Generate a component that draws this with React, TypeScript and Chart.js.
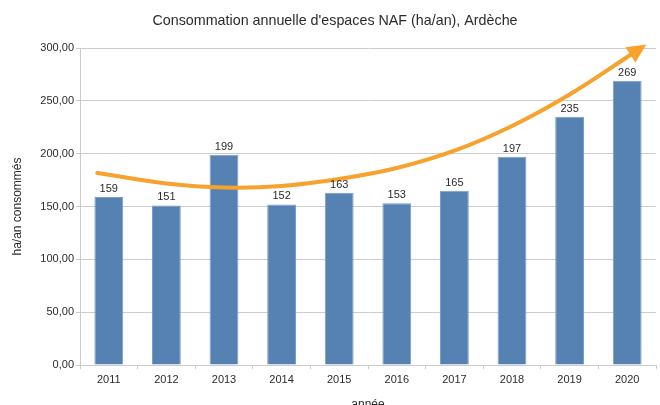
import React, { useEffect, useRef } from "react";
import { Chart, registerables } from "chart.js";

Chart.register(...registerables);

const TITLE = "Consommation annuelle d'espaces NAF (ha/an), Ardèche";
const Y_TITLE = "ha/an consommés";
const X_TITLE = "année";

const years = ["2011", "2012", "2013", "2014", "2015", "2016", "2017", "2018", "2019", "2020"];
const consumption = [159, 151, 199, 152, 163, 153, 165, 197, 235, 269];

// Hand-drawn trend arrow (x = category index, y = value)
const trendX = [-0.2, 1, 2, 3, 4, 5, 6, 7, 8, 9.1];
const trendY = [181.7, 171.8, 168, 169.4, 176, 186.4, 202.8, 226.2, 256, 295];

const BAR_COLOR = "#5682b3";
const ORANGE = "#f6a22d";
const TEXT = "#2b2b2b";
const GRID = "#cccccc";
const FONT = "'Liberation Sans', Arial, sans-serif";

const titlePlugin = {
  id: "customTitle",
  afterDraw(chart: any) {
    const ctx = chart.ctx;
    ctx.save();
    ctx.font = `14.3px ${FONT}`;
    ctx.fillStyle = TEXT;
    ctx.textAlign = "center";
    ctx.textBaseline = "middle";
    ctx.fillText(TITLE, 335, 21);
    ctx.restore();
  },
};

const labelsPlugin = {
  id: "barLabels",
  afterDatasetsDraw(chart: any) {
    const ctx = chart.ctx;
    const meta = chart.getDatasetMeta(1);
    ctx.save();
    ctx.font = `11px ${FONT}`;
    ctx.fillStyle = TEXT;
    ctx.textAlign = "center";
    ctx.textBaseline = "middle";
    meta.data.forEach((bar: any, i: number) => {
      ctx.fillText(String(consumption[i]), bar.x, bar.y - 8);
    });
    ctx.restore();
  },
};

const arrowPlugin = {
  id: "arrowHead",
  afterDatasetsDraw(chart: any) {
    const meta = chart.getDatasetMeta(0);
    const pts = meta.data;
    const n = pts.length;
    if (n < 2) return;
    const b = pts[n - 1];
    const cx = b.cp1x !== undefined ? b.cp1x : pts[n - 2].x;
    const cy = b.cp1y !== undefined ? b.cp1y : pts[n - 2].y;
    const ang = Math.atan2(b.y - cy, b.x - cx);
    const len = 16;
    const half = 9;
    const ctx = chart.ctx;
    const tipX = b.x + Math.cos(ang) * len;
    const tipY = b.y + Math.sin(ang) * len;
    const px = -Math.sin(ang);
    const py = Math.cos(ang);
    const backX = b.x - Math.cos(ang) * 3;
    const backY = b.y - Math.sin(ang) * 3;
    ctx.save();
    ctx.fillStyle = ORANGE;
    ctx.beginPath();
    ctx.moveTo(tipX, tipY);
    ctx.lineTo(backX + px * half, backY + py * half);
    ctx.lineTo(backX - px * half, backY - py * half);
    ctx.closePath();
    ctx.fill();
    ctx.restore();
  },
};

export default function App() {
  const canvasRef = useRef<HTMLCanvasElement | null>(null);

  useEffect(() => {
    document.body.style.margin = "0";
    const canvas = canvasRef.current;
    if (!canvas) return;
    const chart = new Chart(canvas, {
      type: "bar",
      data: {
        labels: years,
        datasets: [
          {
            type: "line",
            data: trendX.map((x, i) => ({ x, y: trendY[i] })),
            xAxisID: "x2",
            borderColor: ORANGE,
            borderWidth: 4,
            borderCapStyle: "round",
            tension: 0.4,
            pointRadius: 0,
            fill: false,
            order: 0,
          } as any,
          {
            type: "bar",
            data: consumption,
            backgroundColor: BAR_COLOR,
            borderColor: "#7b9dc6",
            borderWidth: 1,
            barPercentage: 0.5,
            categoryPercentage: 1,
            grouped: false,
            order: 1,
          } as any,
        ],
      },
      options: {
        animation: false,
        responsive: false,
        maintainAspectRatio: false,
        layout: { padding: { top: 48, right: 4, left: 0, bottom: 0 } },
        plugins: {
          legend: { display: false },
          tooltip: { enabled: false },
          title: { display: false },
        },
        scales: {
          x: {
            type: "category",
            offset: true,
            grid: {
              display: true,
              drawOnChartArea: false,
              offset: true,
              tickLength: 4,
              color: GRID,
            },
            border: { display: true, color: GRID },
            ticks: {
              color: TEXT,
              font: { family: FONT, size: 11 },
              padding: 4,
              maxRotation: 0,
            },
            title: {
              display: true,
              text: X_TITLE,
              color: TEXT,
              font: { family: FONT, size: 12, lineHeight: 1 },
              padding: { top: 0, bottom: -6 },
            },
            afterFit(scale: any) {
              scale.height = 40;
            },
          },
          x2: {
            type: "linear",
            min: -0.5,
            max: 9.5,
            offset: false,
            display: false,
          },
          y: {
            min: 0,
            max: 300,
            ticks: {
              stepSize: 50,
              color: TEXT,
              font: { family: FONT, size: 11 },
              padding: 2,
              callback: (v: any) => Number(v).toFixed(2).replace(".", ","),
            },
            grid: { color: GRID, tickLength: 4 },
            border: { display: true, color: GRID },
            title: {
              display: true,
              text: Y_TITLE,
              color: TEXT,
              font: { family: FONT, size: 12 },
              padding: { top: 10, bottom: 0 },
            },
            afterFit(scale: any) {
              scale.width = 80;
            },
          },
        },
      },
      plugins: [titlePlugin, labelsPlugin, arrowPlugin],
    });
    return () => chart.destroy();
  }, []);

  return (
    <div style={{ width: 660, height: 405, position: "relative" }}>
      <canvas ref={canvasRef} width={660} height={405} style={{ width: 660, height: 405, display: "block" }} />
    </div>
  );
}
